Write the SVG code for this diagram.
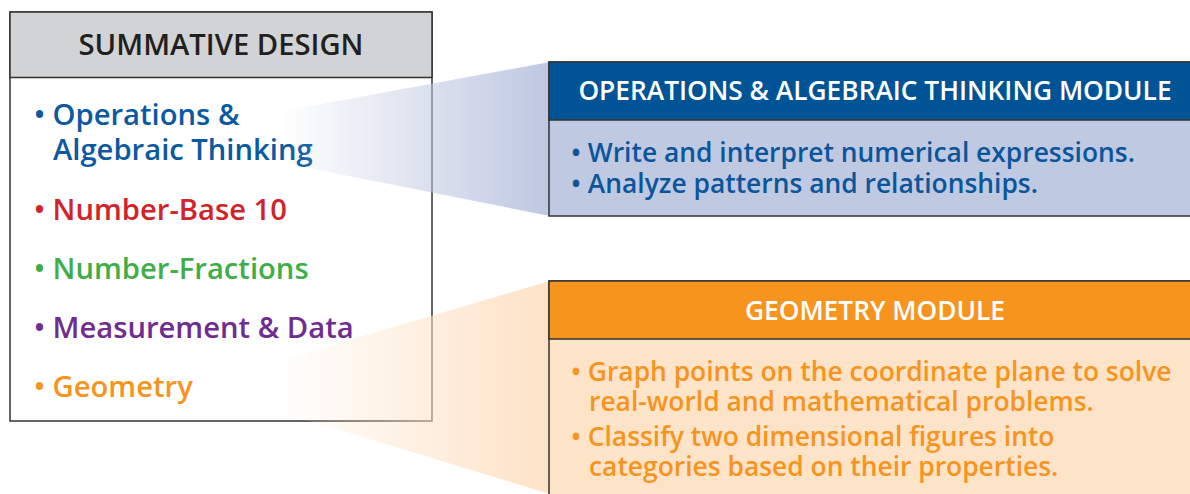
<svg xmlns="http://www.w3.org/2000/svg" width="1190" height="494" viewBox="0 0 1190 494">
<style>
text{font-family:"Open Sans","Noto Sans","Liberation Sans",sans-serif;font-weight:600}
.hd{font-size:29.2px;fill:#231f20;text-anchor:middle}
.it{font-size:29.2px}
.mh{font-size:26.3px;fill:#fff;text-anchor:middle}
.mb{font-size:26.4px}
.box{stroke:#333;stroke-width:1.5}
</style>
<defs>
<linearGradient id="gb" x1="280" y1="0" x2="550" y2="0" gradientUnits="userSpaceOnUse">
<stop offset="0" stop-color="#bfc8e1" stop-opacity="0"/>
<stop offset="1" stop-color="#bfc8e1" stop-opacity="1"/>
</linearGradient>
<linearGradient id="go" x1="275" y1="0" x2="550" y2="0" gradientUnits="userSpaceOnUse">
<stop offset="0" stop-color="#fde2c6" stop-opacity="0"/>
<stop offset="1" stop-color="#fde2c6" stop-opacity="1"/>
</linearGradient>
</defs>
<g id="summative">
<rect x="10" y="12" width="422" height="409" fill="#fff" class="box"/>
<rect x="10" y="12" width="422" height="65.5" fill="#d1d3d4" class="box"/>
<text class="hd" x="221" y="55">SUMMATIVE DESIGN</text>
<text class="it" x="34" y="125" fill="#0b59a1">• Operations &amp;<tspan x="53" y="160">Algebraic Thinking</tspan></text>
<text class="it" x="34" y="220" fill="#d2232a">• Number-Base 10</text>
<text class="it" x="34" y="279" fill="#3fae49">• Number-Fractions</text>
<text class="it" x="34" y="338" fill="#6f2c91">• Measurement &amp; Data</text>
<text class="it" x="34" y="397" fill="#f7941d">• Geometry</text>
</g>
<g id="connectors">
<polygon points="278,112 550,62 550,216 278,162" fill="url(#gb)"/>
<polygon points="274,362 550,281 550,494 274,410" fill="url(#go)"/>
</g>
<g id="oa-module">
<rect x="549" y="62" width="660" height="154" fill="#bfc9e2" class="box"/>
<rect x="549" y="62" width="660" height="58" fill="#005496" class="box"/>
<text class="mh" x="875" y="100">OPERATIONS &amp; ALGEBRAIC THINKING MODULE</text>
<text class="mb" x="571" y="162" fill="#0b559b">• Write and interpret numerical expressions.<tspan x="571" y="193">• Analyze patterns and relationships.</tspan></text>
</g>
<g id="geo-module">
<rect x="549" y="281" width="660" height="230" fill="#fde3c8" class="box"/>
<rect x="549" y="281" width="660" height="58" fill="#f7941e" class="box"/>
<text class="mh" x="875" y="320">GEOMETRY MODULE</text>
<text class="mb" x="571" y="381" fill="#f7941d">• Graph points on the coordinate plane to solve<tspan x="589" y="411">real-world and mathematical problems.</tspan><tspan x="571" y="446">• Classify two dimensional figures into</tspan><tspan x="589" y="476">categories based on their properties.</tspan></text>
</g>
</svg>
